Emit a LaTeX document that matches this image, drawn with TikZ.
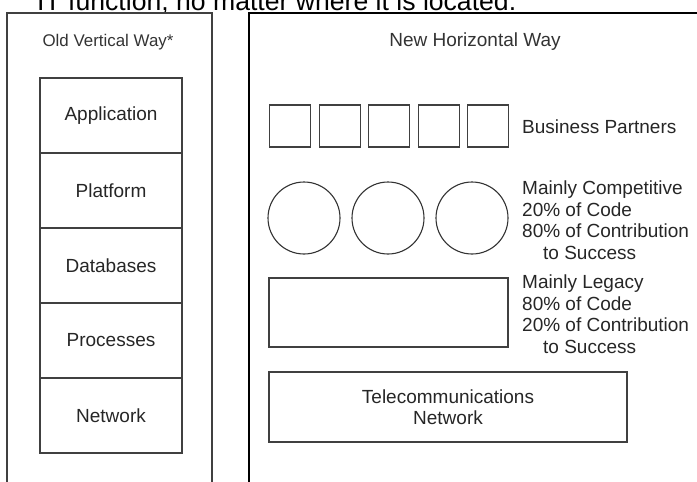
\documentclass[tikz,border=0pt]{standalone}
\usepackage{fontspec}
\setmainfont{Liberation Sans}
\begin{document}
\begin{tikzpicture}[x=1pt,y=-1pt,
  panel/.style={draw=black!75,line width=1.3pt},
  stackbox/.style={draw=black!75,line width=1.2pt,minimum width=142pt,minimum height=75pt,inner sep=0pt,font=\fontsize{19}{22}\selectfont,text=black!85},
  sqbox/.style={draw=black!75,line width=1.1pt,minimum width=41pt,minimum height=42pt,inner sep=0pt},
  circbox/.style={draw=black!80,line width=1.1pt,circle,minimum size=72pt,inner sep=0pt},
  lbl/.style={font=\fontsize{19}{21.5}\selectfont,text=black!85,inner sep=0pt,align=left},
  ttl/.style={font=\fontsize{18}{21}\selectfont,text=black!80,inner sep=0pt}]
\useasboundingbox (0,0) rectangle (697,482);
\clip (0,0) rectangle (697,482);
% top cut-off text
\node[anchor=base west,inner sep=0pt,font=\fontsize{26.6}{30}\selectfont] (toptext) at (37,10) {IT function, no matter where it is located.};
% panels
\draw[panel] (7,13) rectangle (212,520);
\draw[panel,draw=black] (249,13) rectangle (720,520);
\node[ttl,font=\fontsize{16.9}{20}\selectfont] (oldt) at (108,42) {Old Vertical Way*};
\node[ttl,font=\fontsize{19}{22}\selectfont] (newt) at (475,42) {New Horizontal Way};
% stack
\node[stackbox] (app) at (111,115.5) {Application};
\node[stackbox] (plat) at (111,190.5) {Platform};
\node[stackbox] (db) at (111,265.5) {Databases};
\node[stackbox] (proc) at (111,340.5) {Processes};
\node[stackbox] (net) at (111,415.5) {Network};
% business partners
\foreach \i in {0,...,4} {
  \node[sqbox] (bp\i) at (290+49.6*\i,126) {};
}
\node[lbl,anchor=west] (bpt) at (522,127) {Business Partners};
% competitive
\node[circbox] (c1) at (304,218) {};
\node[circbox] (c2) at (388,218) {};
\node[circbox] (c3) at (472,218) {};
\node[lbl,anchor=west] (comp) at (522,220) {Mainly Competitive\\20\% of Code\\80\% of Contribution\\\hspace*{21pt}to Success};
% legacy
\node[draw=black!75,line width=1.2pt,minimum width=239pt,minimum height=69pt,inner sep=0pt] (leg) at (388.5,312.5) {};
\node[lbl,anchor=west] (legt) at (522,314) {Mainly Legacy\\80\% of Code\\20\% of Contribution\\\hspace*{21pt}to Success};
% telecom
\node[draw=black!75,line width=1.2pt,minimum width=358pt,minimum height=70pt,inner sep=0pt,font=\fontsize{19}{21}\selectfont,text=black!85,align=center] (tel) at (448,407) {Telecommunications\\Network};
\end{tikzpicture}
\end{document}
